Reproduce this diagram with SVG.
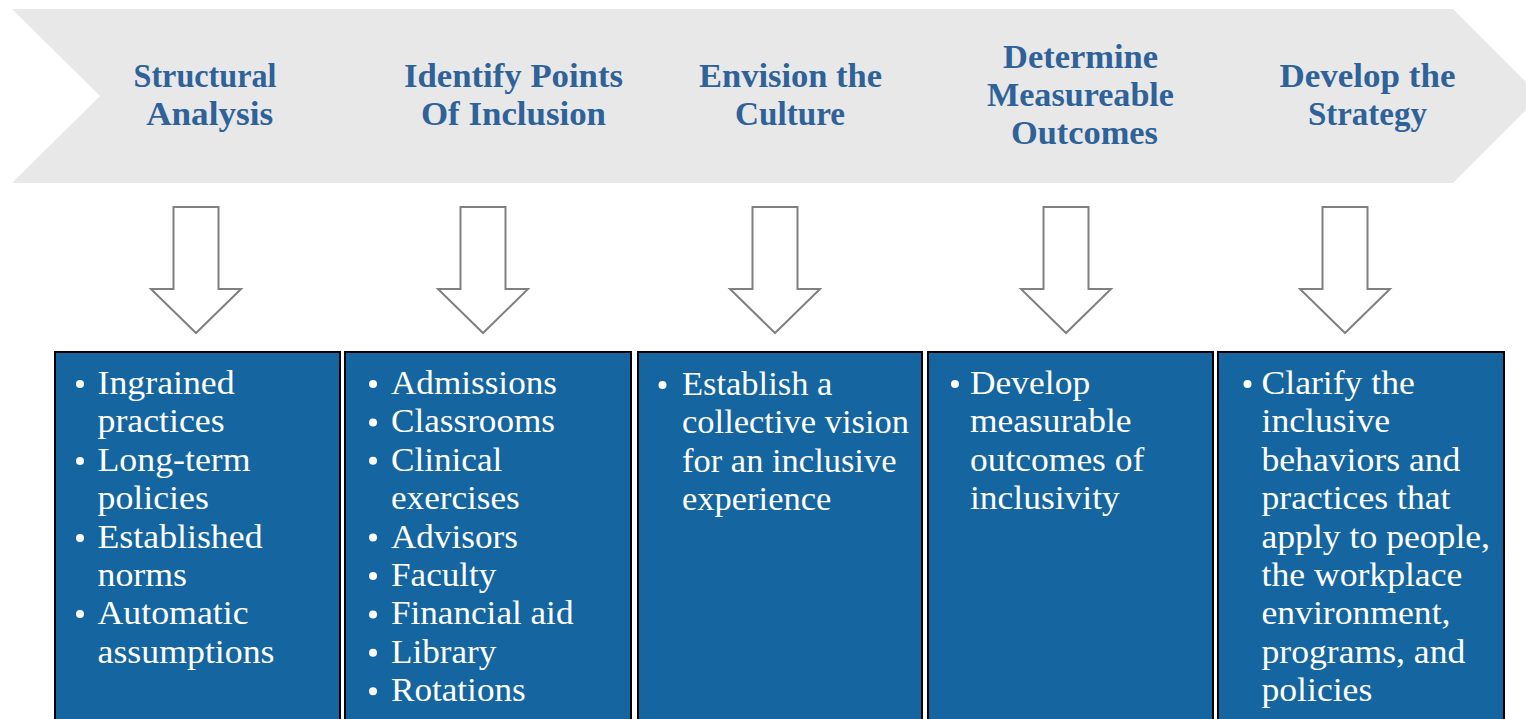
<svg xmlns="http://www.w3.org/2000/svg" width="1526" height="719" viewBox="0 0 1526 719">
  <style>
    .band { fill: #e8e8e8; }
    .hdr { font-family: "Liberation Serif", "Times New Roman", serif; font-weight: bold; font-size: 33px; fill: #2e6298; text-anchor: middle; }
    .arrow { fill: #ffffff; stroke: #808080; stroke-width: 2; stroke-linejoin: miter; }
    .box { fill: #1465a0; stroke: #000000; stroke-width: 2; }
    .item { font-family: "Liberation Serif", "Times New Roman", serif; font-size: 33px; fill: #ffffff; }
    .dot { fill: #ffffff; }
  </style>
  <defs>
    <!-- hollow block arrow pointing down, centred on x=0 -->
    <path id="downArrow" d="M -22.5 207 L 22.5 207 L 22.5 289 L 45 289 L 0 333 L -45 289 L -22.5 289 Z"/>
  </defs>

  <!-- process band -->
  <g id="process-band">
    <polygon class="band" points="12,9 1453,9 1540,96 1453,183 12,183 100,96"/>
  </g>

  <!-- stage headings -->
  <g id="stage-structural-analysis">
    <text class="hdr" x="205" y="87" textLength="143" lengthAdjust="spacingAndGlyphs">Structural</text>
    <text class="hdr" x="209.7" y="125" textLength="127" lengthAdjust="spacingAndGlyphs">Analysis</text>
  </g>
  <g id="stage-identify-points">
    <text class="hdr" x="513.5" y="87" textLength="219" lengthAdjust="spacingAndGlyphs">Identify Points</text>
    <text class="hdr" x="513.5" y="125" textLength="185" lengthAdjust="spacingAndGlyphs">Of Inclusion</text>
  </g>
  <g id="stage-envision-culture">
    <text class="hdr" x="790.5" y="87" textLength="183" lengthAdjust="spacingAndGlyphs">Envision the</text>
    <text class="hdr" x="790" y="125" textLength="110" lengthAdjust="spacingAndGlyphs">Culture</text>
  </g>
  <g id="stage-measurable-outcomes">
    <text class="hdr" x="1080.5" y="68" textLength="155" lengthAdjust="spacingAndGlyphs">Determine</text>
    <text class="hdr" x="1080.5" y="106" textLength="187" lengthAdjust="spacingAndGlyphs">Measureable</text>
    <text class="hdr" x="1084.5" y="144" textLength="147" lengthAdjust="spacingAndGlyphs">Outcomes</text>
  </g>
  <g id="stage-develop-strategy">
    <text class="hdr" x="1367.5" y="87" textLength="176" lengthAdjust="spacingAndGlyphs">Develop the</text>
    <text class="hdr" x="1367.4" y="125" textLength="119" lengthAdjust="spacingAndGlyphs">Strategy</text>
  </g>

  <!-- connectors: heading to detail box -->
  <g id="connectors">
    <use href="#downArrow" class="arrow" transform="translate(196 0)"/>
    <use href="#downArrow" class="arrow" transform="translate(483 0)"/>
    <use href="#downArrow" class="arrow" transform="translate(775 0)"/>
    <use href="#downArrow" class="arrow" transform="translate(1066 0)"/>
    <use href="#downArrow" class="arrow" transform="translate(1345 0)"/>
  </g>

  <!-- detail boxes -->
  <g id="box-structural-analysis">
    <rect class="box" x="55" y="352" width="285" height="380"/>
    <circle class="dot" cx="80" cy="384" r="4"/>
    <circle class="dot" cx="80" cy="461" r="4"/>
    <circle class="dot" cx="80" cy="538" r="4"/>
    <circle class="dot" cx="80" cy="614" r="4"/>
    <g transform="translate(97.5 0) scale(1.085 1)">
      <text class="item" x="0" y="394">Ingrained</text>
      <text class="item" x="0" y="432.4">practices</text>
      <text class="item" x="0" y="470.8">Long-term</text>
      <text class="item" x="0" y="509.2">policies</text>
      <text class="item" x="0" y="547.6">Established</text>
      <text class="item" x="0" y="586">norms</text>
      <text class="item" x="0" y="624.4">Automatic</text>
      <text class="item" x="0" y="662.8">assumptions</text>
    </g>
  </g>

  <g id="box-identify-points">
    <rect class="box" x="345" y="352" width="286" height="380"/>
    <circle class="dot" cx="373" cy="384" r="4"/>
    <circle class="dot" cx="373" cy="422.4" r="4"/>
    <circle class="dot" cx="373" cy="460.8" r="4"/>
    <circle class="dot" cx="373" cy="537.6" r="4"/>
    <circle class="dot" cx="373" cy="576" r="4"/>
    <circle class="dot" cx="373" cy="614.4" r="4"/>
    <circle class="dot" cx="373" cy="652.8" r="4"/>
    <circle class="dot" cx="373" cy="691.2" r="4"/>
    <g transform="translate(391 0) scale(1.065 1)">
      <text class="item" x="0" y="394">Admissions</text>
      <text class="item" x="0" y="432.4">Classrooms</text>
      <text class="item" x="0" y="470.8">Clinical</text>
      <text class="item" x="0" y="509.2">exercises</text>
      <text class="item" x="0" y="547.6">Advisors</text>
      <text class="item" x="0" y="586">Faculty</text>
      <text class="item" x="0" y="624.4">Financial aid</text>
      <text class="item" x="0" y="662.8">Library</text>
      <text class="item" x="0" y="701.2">Rotations</text>
    </g>
  </g>

  <g id="box-envision-culture">
    <rect class="box" x="638" y="352" width="284" height="380"/>
    <circle class="dot" cx="662.5" cy="385" r="4"/>
    <g transform="translate(682 0) scale(1.045 1)">
      <text class="item" x="0" y="395">Establish a</text>
      <text class="item" x="0" y="433.4">collective vision</text>
      <text class="item" x="0" y="471.8">for an inclusive</text>
      <text class="item" x="0" y="510.2">experience</text>
    </g>
  </g>

  <g id="box-measurable-outcomes">
    <rect class="box" x="928" y="352" width="285" height="380"/>
    <circle class="dot" cx="955" cy="384" r="4"/>
    <g transform="translate(970 0) scale(1.075 1)">
      <text class="item" x="0" y="394">Develop</text>
      <text class="item" x="0" y="432.4">measurable</text>
      <text class="item" x="0" y="470.8">outcomes of</text>
      <text class="item" x="0" y="509.2">inclusivity</text>
    </g>
  </g>

  <g id="box-develop-strategy">
    <rect class="box" x="1218" y="352" width="286" height="380"/>
    <circle class="dot" cx="1247.5" cy="384" r="4"/>
    <g transform="translate(1261.5 0) scale(1.08 1)">
      <text class="item" x="0" y="394">Clarify the</text>
      <text class="item" x="0" y="432.4">inclusive</text>
      <text class="item" x="0" y="470.8">behaviors and</text>
      <text class="item" x="0" y="509.2">practices that</text>
      <text class="item" x="0" y="547.6">apply to people,</text>
      <text class="item" x="0" y="586">the workplace</text>
      <text class="item" x="0" y="624.4">environment,</text>
      <text class="item" x="0" y="662.8">programs, and</text>
      <text class="item" x="0" y="701.2">policies</text>
    </g>
  </g>
</svg>
